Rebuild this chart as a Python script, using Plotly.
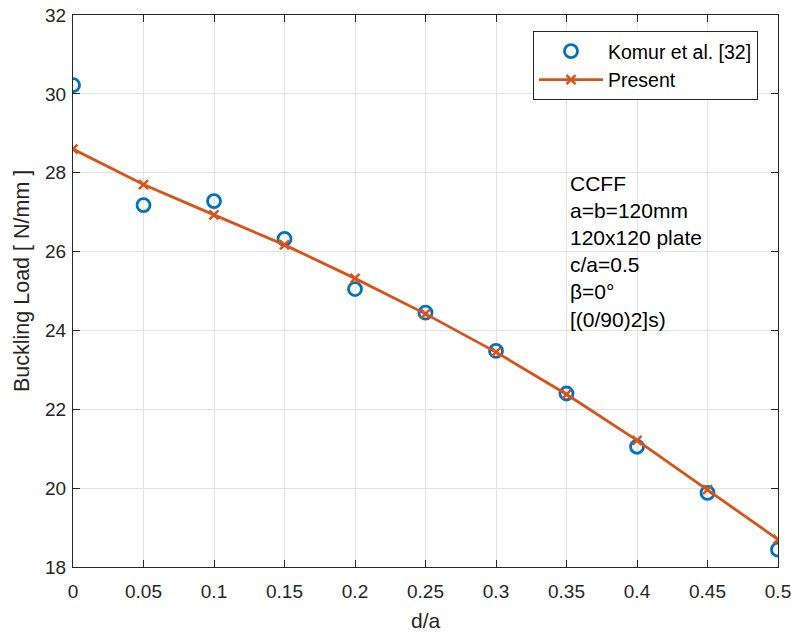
import plotly.graph_objects as go

# d/a ratios
d_over_a = [0, 0.05, 0.1, 0.15, 0.2, 0.25, 0.3, 0.35, 0.4, 0.45, 0.5]
# Reference results (Komur et al.)
komur = [30.22, 27.18, 27.28, 26.32, 25.05, 24.45, 23.48, 22.40, 21.05, 19.88, 18.44]
# Present study
present = [28.60, 27.70, 26.93, 26.17, 25.32, 24.42, 23.45, 22.38, 21.21, 19.96, 18.70]

x_ticks = [0, 0.05, 0.1, 0.15, 0.2, 0.25, 0.3, 0.35, 0.4, 0.45, 0.5]
x_tick_text = ["0", "0.05", "0.1", "0.15", "0.2", "0.25", "0.3", "0.35", "0.4", "0.45", "0.5"]
y_ticks = [18, 20, 22, 24, 26, 28, 30, 32]

info_lines = ["CCFF", "a=b=120mm", "120x120 plate", "c/a=0.5", "β=0°", "[(0/90)2]s)"]

BLUE = "#0072BD"
ORANGE = "#D95319"
AXIS = "#262626"
FONT = "Liberation Sans, Arial, sans-serif"

fig = go.Figure()
fig.add_trace(go.Scatter(
    x=d_over_a, y=komur, mode="markers", name="Komur et al. [32]",
    marker=dict(symbol="circle-open", size=13, color=BLUE, line=dict(width=2.8, color=BLUE)),
))
fig.add_trace(go.Scatter(
    x=d_over_a, y=present, mode="lines+markers", name="Present",
    line=dict(color=ORANGE, width=2.8),
    marker=dict(symbol="x-thin-open", size=9, color=ORANGE, line=dict(width=2.5, color=ORANGE)),
))

L, R, T, B = 73, 13, 15, 67
W, H = 791, 634
pw, ph = W - L - R, H - T - B

# parameter block, one line per annotation
for i, s in enumerate(info_lines):
    fig.add_annotation(
        x=(568 - L) / pw, y=1 - (183 + 27.2 * i - T) / ph,
        xref="paper", yref="paper", xanchor="left", yanchor="middle",
        text=s, showarrow=False, font=dict(family=FONT, size=21, color="#000000"),
    )

# axis titles
fig.add_annotation(
    x=0.5, y=1 - (620 - T) / ph, xref="paper", yref="paper",
    xanchor="center", yanchor="middle", text="d/a", showarrow=False,
    font=dict(family=FONT, size=21, color=AXIS),
)
fig.add_annotation(
    x=(22 - L) / pw, y=1 - (281 - T) / ph, xref="paper", yref="paper",
    xanchor="center", yanchor="middle", text="Buckling Load [ N/mm ]", showarrow=False,
    textangle=-90, font=dict(family=FONT, size=21.5, color=AXIS),
)

axis_common = dict(
    showline=True, linecolor=AXIS, linewidth=1.1, mirror="ticks",
    ticks="inside", ticklen=7, tickwidth=1.1, tickcolor=AXIS,
    showgrid=True, gridcolor="#e3e3e3", gridwidth=1, zeroline=False,
    tickfont=dict(family=FONT, size=19, color=AXIS), automargin=False,
    ticklabeloverflow="allow",
)

fig.update_layout(
    width=W, height=H,
    margin=dict(l=L, r=R, t=T, b=B),
    paper_bgcolor="white", plot_bgcolor="white",
    font=dict(family=FONT, color=AXIS),
    xaxis=dict(range=[0, 0.5], tickvals=x_ticks, ticktext=x_tick_text,
               ticklabelstandoff=7, **axis_common),
    yaxis=dict(range=[18, 32], tickvals=y_ticks, ticklabelstandoff=2, **axis_common),
    legend=dict(
        x=(758 - L) / pw, y=1 - (31 - T) / ph, xanchor="right", yanchor="top",
        bgcolor="white", bordercolor=AXIS, borderwidth=1,
        font=dict(family=FONT, size=19.5, color="#000000"),
        itemwidth=64, tracegroupgap=0,
    ),
    showlegend=True,
)

fig.write_html("out.html")
